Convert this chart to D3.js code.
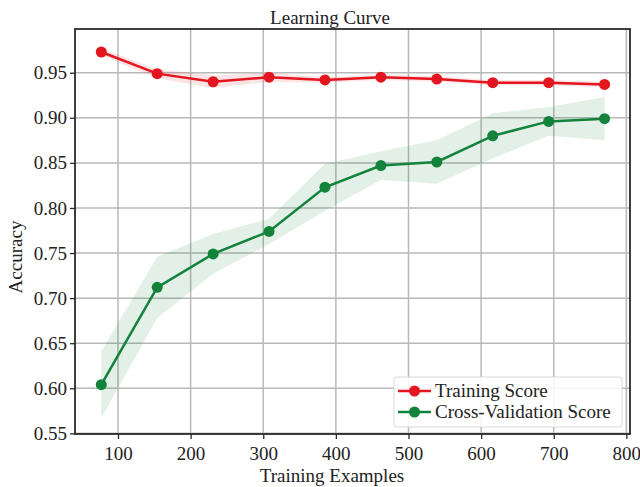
<!DOCTYPE html>
<html>
<head>
<meta charset="utf-8">
<script src="https://cdn.jsdelivr.net/npm/d3@7"></script>
<style>
  body { margin: 0; background: #fff; }
  svg { display: block; font-family: "Liberation Serif", "DejaVu Serif", serif; }
</style>
</head>
<body>
<svg id="chart" width="640" height="487"></svg>
<script>
const trainSizes = [77, 154, 231, 308, 385, 462, 539, 616, 693, 770];
const trainMean = [0.973, 0.949, 0.940, 0.945, 0.942, 0.945, 0.943, 0.939, 0.939, 0.937];
const trainStd  = [0.004, 0.005, 0.007, 0.005, 0.003, 0.003, 0.003, 0.003, 0.003, 0.003];
const cvMean = [0.604, 0.712, 0.749, 0.774, 0.823, 0.847, 0.851, 0.880, 0.896, 0.899];
const cvStd  = [0.037, 0.034, 0.022, 0.014, 0.026, 0.016, 0.024, 0.025, 0.016, 0.024];
const xTicks = [100, 200, 300, 400, 500, 600, 700, 800];
const yTicks = [0.55, 0.60, 0.65, 0.70, 0.75, 0.80, 0.85, 0.90, 0.95];
const seriesNames = ["Training Score", "Cross-Validation Score"];
const colors = ["#e3151f", "#13823a"];

const svg = d3.select("#chart");
const L = 75, R = 630, T = 29, B = 434;
const x = d3.scaleLinear().domain([40.8, 805]).range([L, R]);
const y = d3.scaleLinear().domain([0.5493, 0.9985]).range([B, T]);

// grid
const g = svg.append("g");
g.selectAll(".vg").data(xTicks).join("line")
  .attr("x1", d => x(d)).attr("x2", d => x(d)).attr("y1", T).attr("y2", B)
  .attr("stroke", "#b8b8b8").attr("stroke-width", 1.5);
g.selectAll(".hg").data(yTicks).join("line")
  .attr("y1", d => y(d)).attr("y2", d => y(d)).attr("x1", L).attr("x2", R)
  .attr("stroke", "#b8b8b8").attr("stroke-width", 1.5);

const series = [
  {name: seriesNames[0], mean: trainMean, std: trainStd, color: colors[0]},
  {name: seriesNames[1], mean: cvMean, std: cvStd, color: colors[1]}
];

const area = d3.area()
  .x((d, i) => x(trainSizes[i]))
  .y0(d => y(d.lo)).y1(d => y(d.hi));
const line = d3.line().x((d, i) => x(trainSizes[i])).y(d => y(d));

series.forEach(s => {
  const band = s.mean.map((m, i) => ({lo: m - s.std[i], hi: m + s.std[i]}));
  svg.append("path").datum(band).attr("d", area)
    .attr("fill", s.color).attr("fill-opacity", 0.12);
});
series.forEach(s => {
  svg.append("path").datum(s.mean).attr("d", line)
    .attr("fill", "none").attr("stroke", s.color).attr("stroke-width", 2.5);
  svg.append("g").selectAll("circle").data(s.mean).join("circle")
    .attr("cx", (d, i) => x(trainSizes[i])).attr("cy", d => y(d))
    .attr("r", 5.5).attr("fill", s.color);
});

// frame
svg.append("rect").attr("x", L).attr("y", T).attr("width", R - L).attr("height", B - T)
  .attr("fill", "none").attr("stroke", "#2a2a2a").attr("stroke-width", 1.8);

// axes
const xAxis = d3.axisBottom(x).tickValues(xTicks).tickSize(5).tickPadding(8).tickFormat(d3.format("d"));
const yAxis = d3.axisLeft(y).tickValues(yTicks).tickSize(5).tickPadding(3).tickFormat(d3.format(".2f"));
const xa = svg.append("g").attr("transform", `translate(0,${B})`).call(xAxis);
const ya = svg.append("g").attr("transform", `translate(${L},0)`).call(yAxis);
[xa, ya].forEach(a => {
  a.select(".domain").remove();
  a.selectAll("line").attr("stroke", "#2a2a2a").attr("stroke-width", 1.3);
  a.selectAll("text").attr("font-size", 19).attr("fill", "#222")
    .attr("font-family", "Liberation Serif, serif");
});

// labels
svg.append("text").attr("x", 330).attr("y", 24).attr("text-anchor", "middle")
  .attr("font-size", 19).attr("fill", "#222").text("Learning Curve");
svg.append("text").attr("x", 332).attr("y", 482).attr("text-anchor", "middle")
  .attr("font-size", 19).attr("fill", "#222").text("Training Examples");
svg.append("text").attr("transform", "translate(22,257) rotate(-90)").attr("text-anchor", "middle")
  .attr("font-size", 19).attr("fill", "#222").text("Accuracy");

// legend
const lg = svg.append("g");
lg.append("rect").attr("x", 394).attr("y", 377).attr("width", 228).attr("height", 50)
  .attr("rx", 3).attr("fill", "#fff").attr("fill-opacity", 0.85)
  .attr("stroke", "#d8d8d8").attr("stroke-width", 1);
series.forEach((s, i) => {
  const cy = 391 + i * 21;
  lg.append("line").attr("x1", 398).attr("x2", 431).attr("y1", cy).attr("y2", cy)
    .attr("stroke", s.color).attr("stroke-width", 2.5);
  lg.append("circle").attr("cx", 414.5).attr("cy", cy).attr("r", 5.5).attr("fill", s.color);
  lg.append("text").attr("x", 435).attr("y", cy + 6).attr("font-size", 19).attr("fill", "#222").text(s.name);
});
</script>
</body>
</html>
